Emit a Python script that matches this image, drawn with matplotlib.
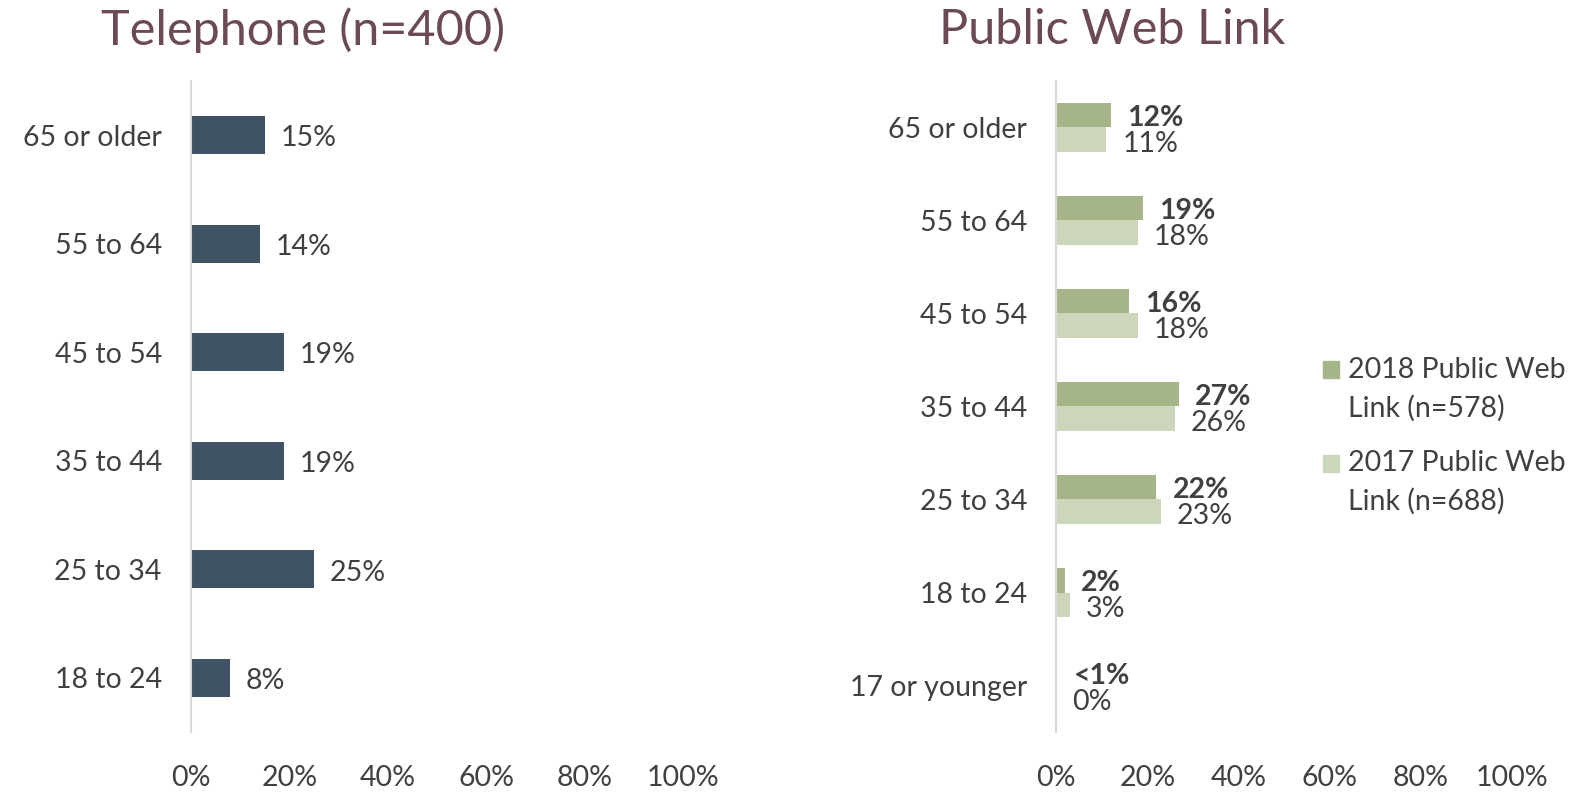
import matplotlib.pyplot as plt
from matplotlib.patches import Rectangle

# Telephone panel
tel_groups = ["65 or older", "55 to 64", "45 to 54", "35 to 44", "25 to 34", "18 to 24"]
tel_values = [15, 14, 19, 19, 25, 8]

# Public web link panel
web_groups = ["65 or older", "55 to 64", "45 to 54", "35 to 44", "25 to 34",
              "18 to 24", "17 or younger"]
web_2018 = [12, 19, 16, 27, 22, 2, 0.3]
web_2017 = [11, 18, 18, 26, 23, 3, 0]
web_2018_labels = ["12%", "19%", "16%", "27%", "22%", "2%", "<1%"]
web_2017_labels = ["11%", "18%", "18%", "26%", "23%", "3%", "0%"]
legend_labels = ["2018 Public Web\nLink (n=578)", "2017 Public Web\nLink (n=688)"]

xticks = [0, 20, 40, 60, 80, 100]
xtick_labels = ["0%", "20%", "40%", "60%", "80%", "100%"]

plt.rcParams['font.family'] = ['Lato', 'DejaVu Sans']
TXT = '#404040'
TITLE = '#6B4A55'
DARK = '#3F5364'
G18 = '#A6B587'
G17 = '#CCD6BA'
FS = 20.5

fig = plt.figure(figsize=(15.81, 7.95), dpi=100)


def style_axis(ax, groups):
    ax.set_xlim(0, 100)
    ax.set_ylim(len(groups) - 0.5, -0.5)
    ax.set_yticks(range(len(groups)))
    ax.set_yticklabels(groups, fontsize=FS, color=TXT)
    ax.set_xticks(xticks)
    ax.set_xticklabels(xtick_labels, fontsize=FS, color=TXT)
    ax.tick_params(axis='both', length=0)
    ax.tick_params(axis='y', pad=21)
    ax.tick_params(axis='x', pad=24)
    for s in ['top', 'right', 'bottom']:
        ax.spines[s].set_visible(False)
    ax.spines['left'].set_color('#D9D9D9')
    ax.spines['left'].set_linewidth(1.5)


# Left panel
ax1 = fig.add_axes([0.1208, 0.0792, 0.3112, 0.819])
ypos = list(range(len(tel_groups)))
ax1.barh(ypos, tel_values, height=0.35, color=DARK)
for y, v in zip(ypos, tel_values):
    ax1.text(v + 3.2, y + 0.03, f"{v}%", va='center', ha='left', fontsize=FS, color=TXT)
style_axis(ax1, tel_groups)

# Right panel
ax2 = fig.add_axes([0.668, 0.0792, 0.2884, 0.819])
ypos = list(range(len(web_groups)))
h = 0.26
ax2.barh([y - h / 2 for y in ypos], web_2018, height=h, color=G18)
ax2.barh([y + h / 2 for y in ypos], web_2017, height=h, color=G17)
for y, v, lab in zip(ypos, web_2018, web_2018_labels):
    ax2.text(v + 3.5, y - h / 2 + 0.03, lab, va='center', ha='left', fontsize=FS,
             color=TXT, fontweight='bold')
for y, v, lab in zip(ypos, web_2017, web_2017_labels):
    ax2.text(v + 3.5, y + h / 2 + 0.05, lab, va='center', ha='left', fontsize=FS,
             color=TXT)
style_axis(ax2, web_groups)

# Legend, drawn by hand so the swatch sits on the first text line
for i, (lab, col) in enumerate(zip(legend_labels, [G18, G17])):
    top = 0.5346 - i * 0.1176
    fig.patches.append(Rectangle((0.8368, top - 0.0107), 0.0101, 0.0214,
                                 transform=fig.transFigure, color=col))
    for j, line in enumerate(lab.split("\n")):
        fig.text(0.8526, top - j * 0.0478, line, ha='left', va='center',
                 fontsize=FS, color=TXT)

fig.text(0.1915, 0.962, "Telephone (n=400)", ha='center', va='center',
         fontsize=35, color=TITLE)
fig.text(0.7035, 0.962, "Public Web Link", ha='center', va='center',
         fontsize=35, color=TITLE)

fig.savefig("out.png", dpi=100)
